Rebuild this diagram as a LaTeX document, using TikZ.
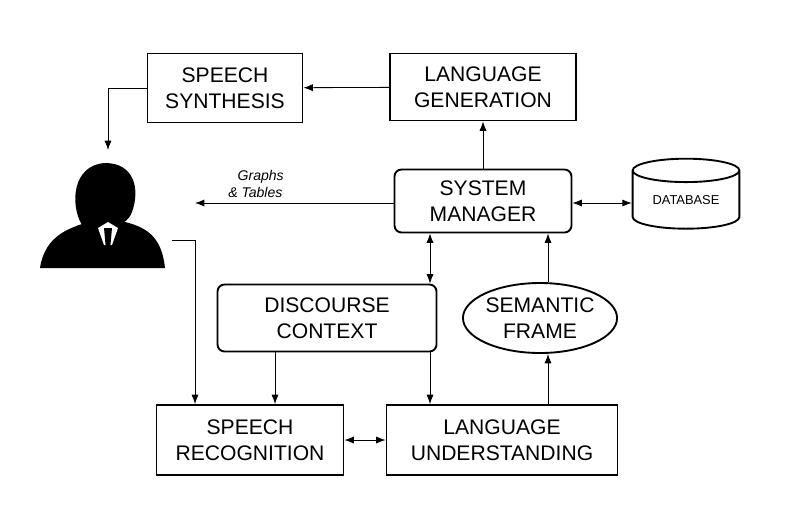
\documentclass[tikz,border=0pt]{standalone}
\usepackage{fontspec}
\setmainfont{Liberation Sans}
\usetikzlibrary{shapes.geometric,arrows.meta}
\begin{document}
\begin{tikzpicture}[x=0.03cm, y=-0.03cm]
	    \tikzstyle{box}=[draw, line width=1.6pt, align=center, font=\fontsize{18}{22}\selectfont, inner sep=0pt]
	    \tikzstyle{edge}=[draw,line width = .7pt,-{Latex[length=8pt,width=6pt]},black]
	    \tikzstyle{both}=[draw,line width = .7pt,{Latex[length=8pt,width=6pt]}-{Latex[length=8pt,width=6pt]},black]
	    \useasboundingbox (0,0) rectangle (793,520);
	    \node[box, minimum width=4.65cm, minimum height=2.07cm] (synth) at (225,88) {SPEECH\\SYNTHESIS};
	    \node[box, minimum width=5.58cm, minimum height=2.01cm] (gen) at (483,87) {LANGUAGE\\GENERATION};
	    \node[box, rounded corners=6pt, minimum width=5.31cm, minimum height=1.89cm] (sm) at (483,201) {SYSTEM\\MANAGER};
	    \node[box, cylinder, shape border rotate=90, aspect=0.35, minimum width=3.2cm, minimum height=2.1cm, font=\fontsize{11}{13}\selectfont] (db) at (686,200) {DATABASE};
	    \node[box, rounded corners=6pt, minimum width=6.57cm, minimum height=2.01cm] (dc) at (327,318) {DISCOURSE\\CONTEXT};
	    \node[box, ellipse, minimum width=4.35cm, minimum height=2.1cm] (sf) at (540,318) {SEMANTIC\\FRAME};
	    \node[box, minimum width=5.61cm, minimum height=2.1cm] (sr) at (250,440) {SPEECH\\RECOGNITION};
	    \node[box, minimum width=6.93cm, minimum height=2.1cm] (lu) at (502,440) {LANGUAGE\\UNDERSTANDING};
	    % user
	    \coordinate (user) at (108,150);
	    \coordinate (gt) at (195,203);
	    \coordinate (ear) at (172,240);
	    \fill (40,268) .. controls (45,235) and (70,228) .. (88,222) -- (125,222)
	        .. controls (150,228) and (162,240) .. (165,268) -- cycle;
	    \fill (82,225) .. controls (70,205) and (72,165) .. (105,163)
	        .. controls (135,163) and (140,190) .. (132,212)
	        .. controls (126,230) and (95,232) .. (82,225) -- cycle;
	    \fill[white] (98,228) -- (108,222) -- (118,228) -- (112,245) -- (104,245) -- cycle;
	    \fill (104,228) -- (112,228) -- (110,250) -- (106,250) -- cycle;
	    \node[font=\itshape\fontsize{12}{14}\selectfont, align=left] (gtl) at (256,184) {\phantom{\&}Graphs\\\& Tables};
	    \draw[edge] (gen) -- (synth);
	    \draw[edge] (synth.west) -| (user);
	    \draw[edge] (sm) -- (gen);
	    \draw[edge] (sm.west |- gt) -- (gt);
	    \draw[both] (sm.east |- 0,203) -- (db.west |- 0,203);
	    \draw[both] (sm.south -| 430,0) -- (dc.north -| 430,0);
	    \draw[edge] (sf.north -| 548,0) -- (sm.south -| 548,0);
	    \draw[edge] (lu.north -| 548,0) -- (sf.south -| 548,0);
	    \draw[edge] (dc.south -| 275,0) -- (sr.north -| 275,0);
	    \draw[edge] (dc.south -| 430,0) -- (lu.north -| 430,0);
	    \draw[edge] (ear) -| (sr.north -| 195,0);
	    \draw[both] (sr) -- (lu);
	\end{tikzpicture}
\end{document}
